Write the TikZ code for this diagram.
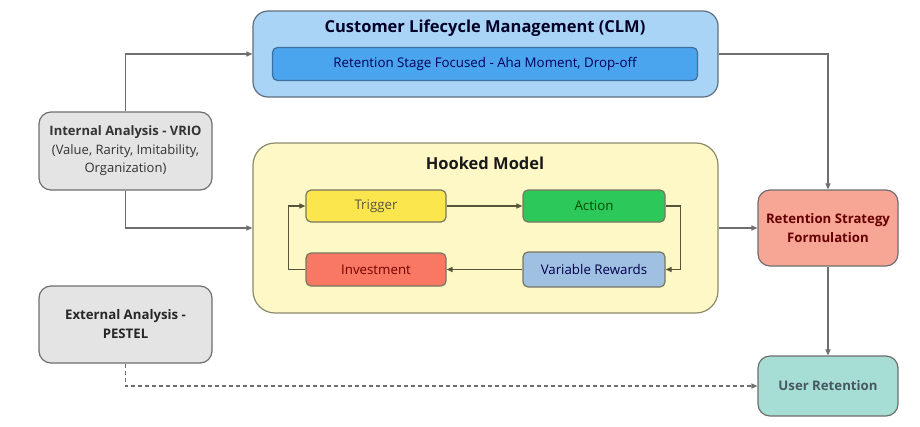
\documentclass[tikz,border=0pt]{standalone}
\usepackage{fontspec}
\setmainfont{Open Sans}
\usetikzlibrary{arrows.meta}

\definecolor{edgegray}{HTML}{6E6E6E}
\definecolor{loopline}{HTML}{55553A}
\definecolor{clmfill}{HTML}{AAD4F6}
\definecolor{clmedge}{HTML}{5E6E7E}
\definecolor{barfill}{HTML}{4BA4EE}
\definecolor{baredge}{HTML}{3C6E9E}
\definecolor{hookfill}{HTML}{FEF8C6}
\definecolor{hookedge}{HTML}{8A8A6A}
\definecolor{trigfill}{HTML}{FBE64E}
\definecolor{actfill}{HTML}{2DC85A}
\definecolor{invfill}{HTML}{F87863}
\definecolor{vrfill}{HTML}{A0C0E2}
\definecolor{rsffill}{HTML}{F7A594}
\definecolor{urfill}{HTML}{A6DDD4}
\definecolor{grayfill}{HTML}{E4E4E4}

\tikzset{
  x=1pt, y=-1pt,
  box/.style={draw, line width=1.2pt, rounded corners=#1, align=center, inner sep=2pt},
  box/.default=10pt,
  conn/.style={draw=edgegray, line width=1.1pt, -{Triangle[length=6pt,width=5pt]}},
  loopconn/.style={draw=loopline, line width=1.1pt, -{Triangle[length=6pt,width=5pt]}},
  stagebox/.style={box=5pt, minimum width=140pt, minimum height=32pt, font=\fontsize{13.3}{15}\selectfont},
  sidebox/.style={box=12pt, draw=edgegray, fill=grayfill, minimum width=173pt, font=\fontsize{13}{18.5}\selectfont},
  endbox/.style={box=12pt, minimum width=140pt, font=\bfseries\fontsize{13.2}{18.5}\selectfont},
  titletext/.style={font=\bfseries\fontsize{16.5}{19}\selectfont},
}

\begin{document}
\begin{tikzpicture}
\useasboundingbox (0,0) rectangle (920,426);

% containers
\node[box=15pt, draw=clmedge, fill=clmfill, minimum width=465pt, minimum height=86pt] (clm) at (485.5,54) {};
\node[titletext, text=black!85!blue] (clmtitle) at (485,28) {Customer Lifecycle Management (CLM)};
\node[box=5pt, draw=baredge, fill=barfill, minimum width=425pt, minimum height=33pt,
      font=\fontsize{13.3}{15}\selectfont, text=blue!35!black] (clmbar) at (485,64) {Retention Stage Focused - Aha Moment, Drop-off};

\node[box=22pt, draw=hookedge, fill=hookfill, minimum width=465pt, minimum height=170pt] (hook) at (485.5,228) {};
\node[titletext, text=black!90] (hooktitle) at (485,163) {Hooked Model};

% hook loop stages
\node[stagebox, draw=loopline!80, fill=trigfill, text=yellow!25!black] (trigger) at (376,206) {Trigger};
\node[stagebox, draw=loopline!80, fill=actfill, minimum width=142pt, text=green!30!black] (action) at (594,206) {Action};
\node[stagebox, draw=loopline!80, fill=invfill, minimum height=33pt, text=red!45!black] (invest) at (376,269.5) {Investment};
\node[stagebox, draw=loopline!80, fill=vrfill, minimum width=142pt, minimum height=35pt, text=blue!30!black] (vr) at (594,269.5) {Variable Rewards};

% analysis inputs
\node[sidebox, minimum height=78pt, text=black!80] (internal) at (125.5,151)
  {\textbf{Internal Analysis - VRIO}\\(Value, Rarity, Imitability,\\Organization)};
\node[sidebox, minimum height=77pt, font=\bfseries\fontsize{13.2}{19}\selectfont, text=black!85] (external) at (125.5,324.5)
  {External Analysis -\\PESTEL};

% outcomes
\node[endbox, draw=edgegray, fill=rsffill, minimum height=76pt, text=red!40!black] (rsf) at (828,228)
  {Retention Strategy\\Formulation};
\node[endbox, draw=edgegray, fill=urfill, minimum height=60pt, text=cyan!30!black] (ur) at (828,386)
  {User Retention};

% connectors
\draw[conn] (internal.north) |- (clm.west);
\draw[conn] (internal.south) |- (hook.west);
\draw[conn] (clm.east) -| (rsf.north);
\draw[conn] (hook.east) -- (rsf.west);
\draw[conn] (rsf.south) -- (ur.north);
\draw[conn, dashed, dash pattern=on 4pt off 3pt] (external.south) |- (ur.west);

\draw[loopconn] (trigger.east) -- (action.west);
\draw[loopconn] (action.east) -- ++(15,0) |- (vr.east);
\draw[loopconn] (vr.west) -- (invest.east);
\draw[loopconn] (invest.west) -- ++(-17,0) |- (trigger.west);
\end{tikzpicture}
\end{document}
